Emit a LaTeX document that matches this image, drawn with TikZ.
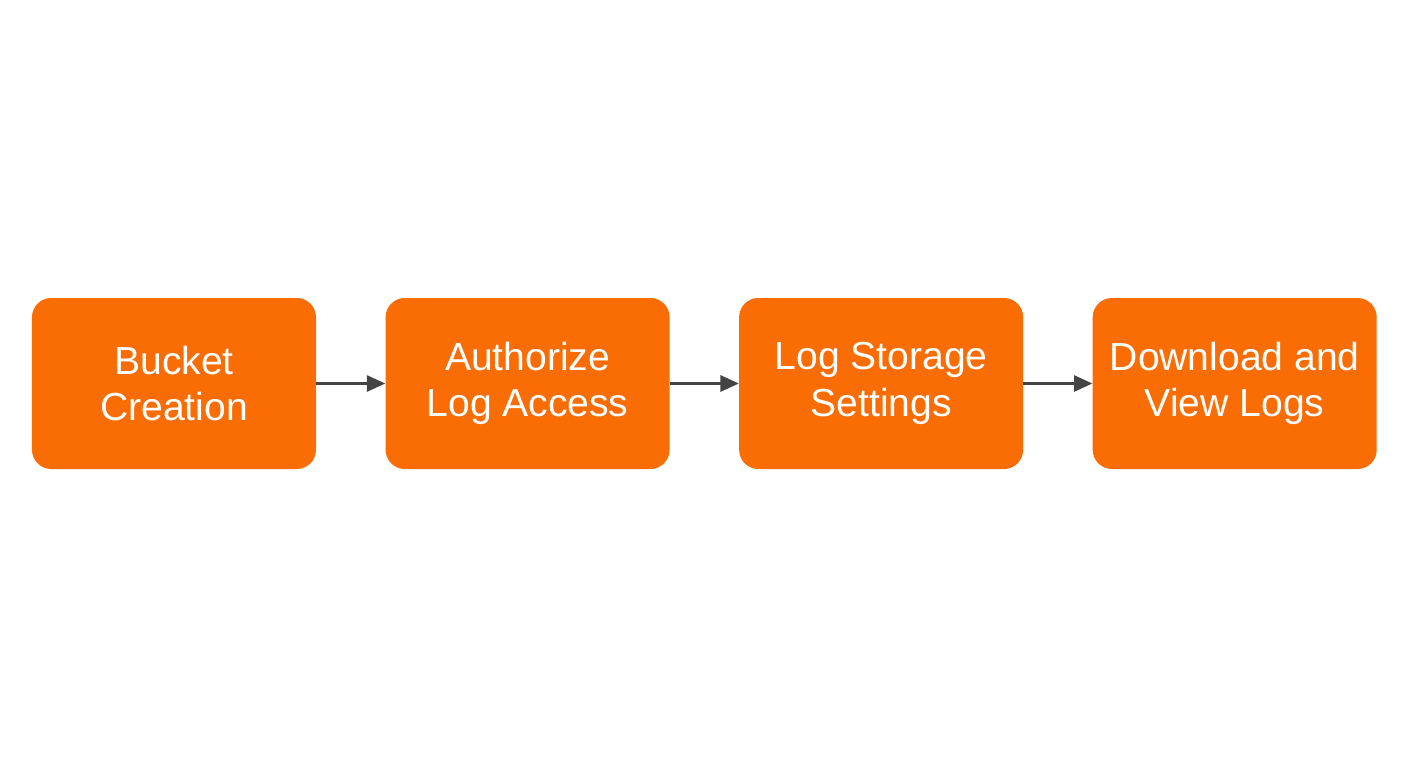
\documentclass[tikz,border=0pt]{standalone}
\usepackage{fontspec}
\setmainfont{Liberation Sans}
\usetikzlibrary{arrows.meta,positioning}
\definecolor{LGorange}{HTML}{FA6D05}
\definecolor{LGarrow}{HTML}{444444}

\begin{document}
\begin{tikzpicture}[
  x=0.25mm,y=-0.25mm,
  font=\fontsize{27.8}{33}\selectfont,
  flow/.style={draw=LGarrow,line width=0.7mm,-{Triangle[length=4.6mm,width=4.0mm]}},
  stagebox/.style={fill=LGorange,rounded corners=4.8mm,text=white,align=center,
    minimum width=71mm,minimum height=42.75mm,inner sep=0pt}
]
\useasboundingbox (0,0) rectangle (1408,768);

% Four stages in one row, evenly spaced.
\node[stagebox] (bucket) at (174,383.5) {Bucket\\Creation};
\node[stagebox,right=17.25mm of bucket] (authorize) {Authorize\\Log Access};
\node[stagebox,right=17.25mm of authorize] (storage) {Log Storage\\Settings};
\node[stagebox,right=17.25mm of storage] (download) {Download and\\View Logs};

\draw[flow] (bucket.east) -- (authorize.west);
\draw[flow] (authorize.east) -- (storage.west);
\draw[flow] (storage.east) -- (download.west);

\end{tikzpicture}
\end{document}
